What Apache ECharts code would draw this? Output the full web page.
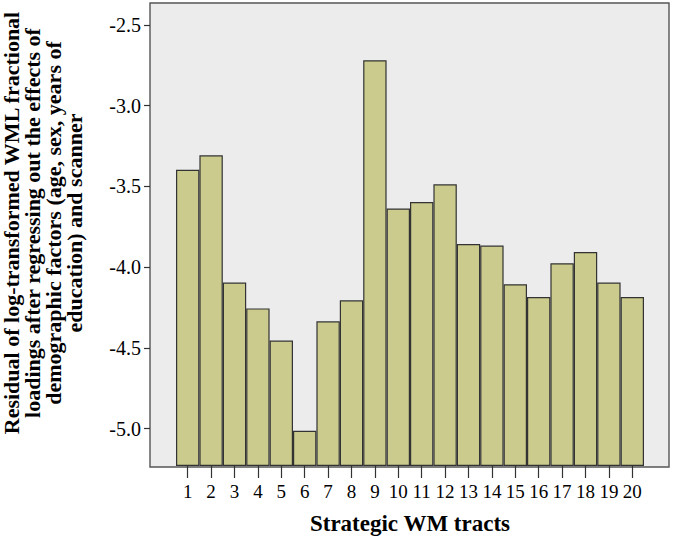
<!DOCTYPE html>
<html>
<head>
<meta charset="utf-8">
<script src="https://cdn.jsdelivr.net/npm/echarts@6/dist/echarts.min.js"></script>
<style>
html,body{margin:0;padding:0;background:#fff;}
#chart{width:673px;height:540px;}
</style>
</head>
<body>
<div id="chart"></div>
<script>
const categories = ['1','2','3','4','5','6','7','8','9','10','11','12','13','14','15','16','17','18','19','20'];
const values = [-3.40, -3.31, -4.10, -4.26, -4.46, -5.02, -4.34, -4.21, -2.72, -3.64, -3.60, -3.49, -3.86, -3.87, -4.11, -4.19, -3.98, -3.91, -4.10, -4.19];
const yTicks = [-5.0, -4.5, -4.0, -3.5, -3.0, -2.5];
const yMin = -5.238;
const yMax = -2.365;
const xTitle = 'Strategic WM tracts';
const yTitle = 'Residual of log-transformed WML fractional\nloadings after regressing out the effects of\ndemographic factors (age, sex, years of\neducation) and scanner';

const FONT = '"Liberation Serif", "Times New Roman", serif';
const chart = echarts.init(document.getElementById('chart'), null, {renderer: 'svg'});

const option = {
  animation: false,
  backgroundColor: '#ffffff',
  grid: [
    {left: 150, right: 4, top: 3, bottom: 73, show: true, backgroundColor: '#ececec', borderColor: '#555555', borderWidth: 1.4, containLabel: false},
    {left: 176, right: 29, top: 3, bottom: 73, containLabel: false}
  ],
  xAxis: [
    {gridIndex: 0, type: 'value', min: 0, max: 1, show: false},
    {
      gridIndex: 1, type: 'category', data: categories,
      axisLine: {show: false},
      axisTick: {show: true, alignWithLabel: true, interval: 0, length: 12, lineStyle: {color: '#333333', width: 1.2}},
      axisLabel: {interval: 0, margin: 16, fontSize: 19, color: '#000', fontFamily: FONT},
      name: xTitle, nameLocation: 'middle', nameGap: 46,
      nameTextStyle: {fontSize: 23, fontWeight: 'bold', color: '#000', fontFamily: FONT}
    }
  ],
  yAxis: [
    {
      gridIndex: 0, type: 'value', min: yMin, max: yMax,
      axisLine: {show: false},
      splitLine: {show: false},
      axisTick: {show: true, length: 6, customValues: yTicks, lineStyle: {color: '#333333', width: 1.2}},
      axisLabel: {customValues: yTicks, margin: 9, fontSize: 20, color: '#000', fontFamily: FONT,
        formatter: v => Number(v).toFixed(1)}
    },
    {gridIndex: 1, type: 'value', min: yMin, max: yMax, show: false}
  ],
  graphic: [{
    type: 'text', x: 43, y: 223, rotation: Math.PI / 2,
    style: {text: yTitle, font: 'bold 22px ' + FONT, fill: '#000', textAlign: 'center', textVerticalAlign: 'middle', lineHeight: 21, align: 'center', verticalAlign: 'middle'}
  }],
  series: [
    {
      type: 'bar', xAxisIndex: 1, yAxisIndex: 1, stack: 's', stackStrategy: 'all',
      data: categories.map(() => yMin),
      itemStyle: {color: 'rgba(0,0,0,0)'}, barCategoryGap: '0%', silent: true
    },
    {
      type: 'bar', xAxisIndex: 1, yAxisIndex: 1, stack: 's', stackStrategy: 'all',
      data: values.map(v => v - yMin),
      barCategoryGap: '0%',
      itemStyle: {color: '#cbcb8d', borderColor: '#333333', borderWidth: 1.2}
    }
  ]
};
chart.setOption(option);
</script>
</body>
</html>
